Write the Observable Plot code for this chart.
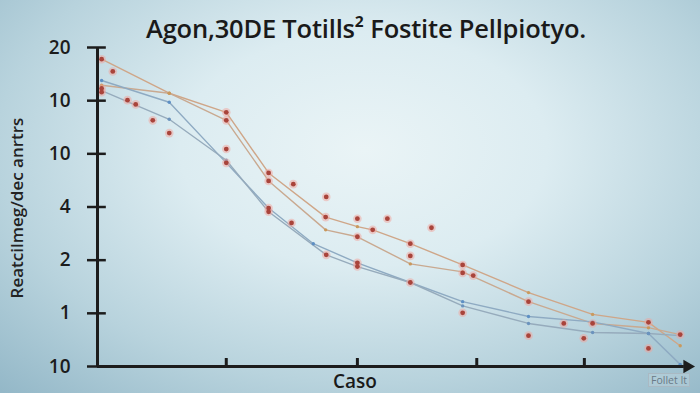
<!DOCTYPE html>
<html>
<head>
<meta charset="utf-8">
<script src="https://cdn.jsdelivr.net/npm/d3@7"></script>
<script src="https://cdn.jsdelivr.net/npm/@observablehq/plot@0.6"></script>
<style>
  html, body { margin: 0; padding: 0; }
  #wrap {
    position: relative; width: 700px; height: 393px; overflow: hidden;
    background: radial-gradient(ellipse 75% 85% at 52% 38%, #eaf4f6 0%, #dcecf1 35%, #b8d3dd 70%, #94b8c8 100%);
    font-family: "Open Sans", "Noto Sans", sans-serif; color: #1a1a1a;
  }
  #title { position: absolute; left: 16px; top: 13px; width: 700px; text-align: center;
    font-size: 25.5px; font-weight: 600; line-height: 30px; letter-spacing: -0.2px; }
  #ylabel { position: absolute; left: 17px; top: 208px; transform: translate(-50%, -50%) rotate(-90deg);
    font-size: 17px; font-weight: 600; white-space: nowrap; color: #222; line-height: 20px; }
  #xlabel { position: absolute; left: 355px; top: 381px; transform: translate(-50%, -50%);
    font-size: 19px; font-weight: 600; line-height: 20px; }
  #note { position: absolute; left: 648px; top: 373px; font-size: 10.5px; color: #6a7a86;
    border: 1px solid #a9b9c3; padding: 0 2px; line-height: 12px; background: rgba(255,255,255,0.15); }
  #chart { position: absolute; left: 0; top: 0; }
</style>
</head>
<body>
<div id="wrap">
  <div id="chart"></div>
  <div id="title">Agon,30DE Totills² Fostite Pellpiotyo.</div>
  <div id="ylabel">Reatcilmeg/dec anrtrs</div>
  <div id="xlabel">Caso</div>
  <div id="note">Follet It</div>
</div>
<script>
// Tick values and labels
const yTickValues = [0, 1, 2, 3, 4, 5, 6];
const yTickLabels = ["10", "1", "2", "4", "10", "10", "20"];
const xTicks = [21.9, 44.2, 64.5, 82.8];

// Line series (x = caso, y = position on the axis index scale)
const orangeAx = [0.7, 12.2, 21.9, 29.1, 38.8, 44.2, 46.8, 53.2, 62.1, 73.3, 84.2, 93.7, 99.1];
const orangeAy = [5.78, 5.14, 4.78, 3.64, 2.81, 2.63, 2.57, 2.31, 1.91, 1.39, 0.98, 0.83, 0.39];
const orangeBx = [0.7, 12.2, 21.9, 29.1, 38.8, 44.2, 53.2, 62.1, 73.3, 84.2, 93.7, 99.1];
const orangeBy = [5.29, 5.14, 4.63, 3.49, 2.57, 2.44, 1.93, 1.78, 1.22, 0.81, 0.73, 0.60];
const blueCx = [0.7, 12.2, 21.9, 29.1, 36.7, 44.2, 53.2, 62.1, 73.3, 84.2, 93.7, 99.1];
const blueCy = [5.38, 4.97, 3.83, 2.98, 2.31, 1.95, 1.58, 1.22, 0.94, 0.84, 0.62, 0.04];
const blueDx = [0.7, 12.2, 21.9, 29.1, 38.9, 44.2, 53.2, 62.1, 73.3, 84.2, 93.7, 99.1];
const blueDy = [5.19, 4.65, 3.88, 2.91, 2.10, 1.88, 1.58, 1.14, 0.81, 0.64, 0.62, 0.58];

// Scattered observations
const obsX = [0.7, 2.6, 0.7, 0.7, 5.1, 6.5, 9.4, 12.2, 21.9, 21.9, 21.9, 21.9, 29.1, 29.1, 33.3, 29.1, 29.1, 33.0,
  38.9, 38.8, 44.2, 44.2, 46.8, 49.3, 56.8, 38.9, 44.2, 44.2, 53.2, 53.2, 53.2, 62.1, 62.1, 63.9, 62.1,
  73.3, 73.3, 79.3, 84.2, 82.7, 93.7, 93.7, 99.1];
const obsY = [5.78, 5.55, 5.23, 5.16, 5.01, 4.93, 4.63, 4.39, 4.78, 4.63, 4.09, 3.83, 3.64, 3.49, 3.43, 2.98, 2.91, 2.70,
  3.19, 2.81, 2.78, 2.44, 2.57, 2.78, 2.61, 2.10, 1.95, 1.88, 2.31, 2.08, 1.58, 1.91, 1.76, 1.71, 1.01,
  1.22, 0.58, 0.81, 0.81, 0.53, 0.83, 0.34, 0.60];

const toPts = (xs, ys) => xs.map((x, i) => ({x, y: ys[i]}));
const series = [
  {pts: toPts(orangeAx, orangeAy), line: "#cfa688", vtx: "#c99a5e"},
  {pts: toPts(orangeBx, orangeBy), line: "#c9a990", vtx: "#c9985c"},
  {pts: toPts(blueCx, blueCy), line: "#8eaac2", vtx: "#5d8fc4"},
  {pts: toPts(blueDx, blueDy), line: "#96abbc", vtx: "#6b93bd"}
];
const obs = toPts(obsX, obsY);
const axisColor = "#1c1c1c";

const marks = [];
for (const s of series) {
  marks.push(Plot.line(s.pts, {x: "x", y: "y", stroke: s.line, strokeWidth: 1.4, curve: "linear"}));
}
for (const s of series) {
  marks.push(Plot.dot(s.pts, {x: "x", y: "y", r: 1.7, fill: s.vtx}));
}
marks.push(
  Plot.dot(obs, {x: "x", y: "y", r: 4.3, fill: "#f2a49c", fillOpacity: 0.5}),
  Plot.dot(obs, {x: "x", y: "y", r: 2.4, fill: "#a9443b"}),
  // axes
  Plot.ruleX([0], {y1: 0, y2: 6, stroke: axisColor, strokeWidth: 3}),
  Plot.ruleY(yTickValues, {y: d => d, x1: -1.7, x2: 1.5, stroke: axisColor, strokeWidth: 2.5}),
  Plot.text(yTickValues, {x: 0, y: d => d, text: d => yTickLabels[d], dx: -27, textAnchor: "end",
    fontSize: 19, fontWeight: 600, fill: axisColor, fontFamily: "Open Sans"}),
  Plot.ruleY([0], {x1: 0, x2: 99.8, stroke: axisColor, strokeWidth: 3}),
  Plot.ruleX(xTicks, {y1: 0, y2: 0.15, stroke: axisColor, strokeWidth: 3}),
  Plot.dot([0], {x: 100.3, y: 0, symbol: "triangle", r: 5, fill: axisColor, rotate: 90})
);

const chart = Plot.plot({
  width: 700, height: 393,
  marginTop: 47, marginBottom: 27, marginLeft: 97, marginRight: 15,
  x: {domain: [0, 100], axis: null},
  y: {domain: [0, 6], axis: null},
  style: {background: "transparent", overflow: "visible"},
  marks
});
document.getElementById("chart").appendChild(chart);
</script>
</body>
</html>
